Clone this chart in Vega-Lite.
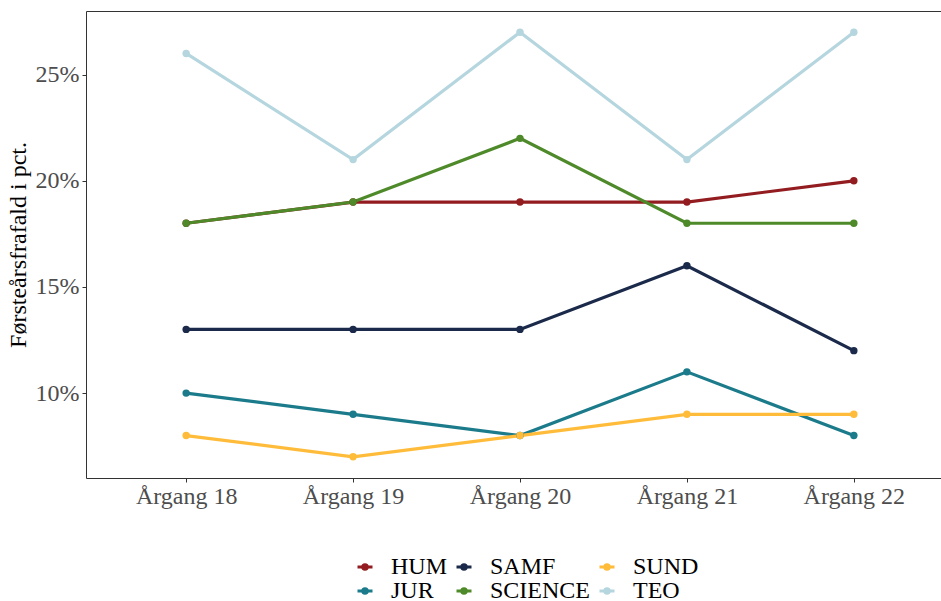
{
  "$schema": "https://vega.github.io/schema/vega-lite/v6.json",
  "autosize": {"type": "none"},
  "padding": {"left": 86, "top": 11, "right": 0, "bottom": 123},
  "width": 868,
  "height": 467,
  "background": "white",
  "config": {
    "font": "Liberation Serif",
    "view": {"stroke": "#333333", "strokeWidth": 1}
  },
  "data": {
    "values": [
      {"argang": "Årgang 18", "fak": "HUM", "v": 18},
      {"argang": "Årgang 19", "fak": "HUM", "v": 19},
      {"argang": "Årgang 20", "fak": "HUM", "v": 19},
      {"argang": "Årgang 21", "fak": "HUM", "v": 19},
      {"argang": "Årgang 22", "fak": "HUM", "v": 20},
      {"argang": "Årgang 18", "fak": "JUR", "v": 10},
      {"argang": "Årgang 19", "fak": "JUR", "v": 9},
      {"argang": "Årgang 20", "fak": "JUR", "v": 8},
      {"argang": "Årgang 21", "fak": "JUR", "v": 11},
      {"argang": "Årgang 22", "fak": "JUR", "v": 8},
      {"argang": "Årgang 18", "fak": "SAMF", "v": 13},
      {"argang": "Årgang 19", "fak": "SAMF", "v": 13},
      {"argang": "Årgang 20", "fak": "SAMF", "v": 13},
      {"argang": "Årgang 21", "fak": "SAMF", "v": 16},
      {"argang": "Årgang 22", "fak": "SAMF", "v": 12},
      {"argang": "Årgang 18", "fak": "SCIENCE", "v": 18},
      {"argang": "Årgang 19", "fak": "SCIENCE", "v": 19},
      {"argang": "Årgang 20", "fak": "SCIENCE", "v": 22},
      {"argang": "Årgang 21", "fak": "SCIENCE", "v": 18},
      {"argang": "Årgang 22", "fak": "SCIENCE", "v": 18},
      {"argang": "Årgang 18", "fak": "SUND", "v": 8},
      {"argang": "Årgang 19", "fak": "SUND", "v": 7},
      {"argang": "Årgang 20", "fak": "SUND", "v": 8},
      {"argang": "Årgang 21", "fak": "SUND", "v": 9},
      {"argang": "Årgang 22", "fak": "SUND", "v": 9},
      {"argang": "Årgang 18", "fak": "TEO", "v": 26},
      {"argang": "Årgang 19", "fak": "TEO", "v": 21},
      {"argang": "Årgang 20", "fak": "TEO", "v": 27},
      {"argang": "Årgang 21", "fak": "TEO", "v": 21},
      {"argang": "Årgang 22", "fak": "TEO", "v": 27}
    ]
  },
  "encoding": {
    "x": {
      "field": "argang", "type": "ordinal",
      "scale": {"type": "point", "padding": 0.6},
      "axis": {
        "title": null, "labelAngle": 0, "labelFont": "Liberation Serif", "labelFontSize": 24,
        "labelColor": "#4D4D4D", "tickColor": "#333333", "tickSize": 4, "domain": false,
        "grid": false, "labelPadding": 2
      }
    },
    "y": {
      "field": "v", "type": "quantitative",
      "scale": {"domain": [6, 28], "nice": false, "zero": false},
      "axis": {
        "title": "Førsteårsfrafald i pct.", "values": [10, 15, 20, 25],
        "labelExpr": "datum.value + '%'",
        "labelFont": "Liberation Serif", "labelFontSize": 24, "labelColor": "#4D4D4D",
        "titleFont": "Liberation Serif", "titleFontSize": 24, "titleFontWeight": "normal",
        "titleColor": "#000000", "titlePadding": 5,
        "tickColor": "#333333", "tickSize": 4, "domain": false, "grid": false, "labelPadding": 3
      }
    },
    "color": {
      "field": "fak", "type": "nominal",
      "scale": {
        "domain": ["HUM", "SAMF", "SUND", "JUR", "SCIENCE", "TEO"],
        "range": ["#931C20", "#1B2A4A", "#FFBC3B", "#1B7B8B", "#4E8A2A", "#B5D6DF"]
      },
      "legend": {
        "title": null, "orient": "none", "legendX": 267, "legendY": 544,
        "direction": "horizontal", "columns": 3,
        "labelFont": "Liberation Serif", "labelFontSize": 24, "labelColor": "#000000",
        "symbolType": "M-1,0H1M-0.3,0A0.3,0.3 0 1,1 0.3,0A0.3,0.3 0 1,1 -0.3,0Z",
        "symbolStrokeWidth": 3, "symbolSize": 225, "symbolOpacity": 1,
        "labelOffset": 14, "columnPadding": 2, "rowPadding": 0, "labelLimit": 200
      }
    },
    "detail": {"field": "fak"},
    "order": {"field": "fak"}
  },
  "layer": [
    {"mark": {"type": "line", "strokeWidth": 3.2}},
    {"mark": {"type": "circle", "size": 55, "opacity": 1}}
  ]
}
